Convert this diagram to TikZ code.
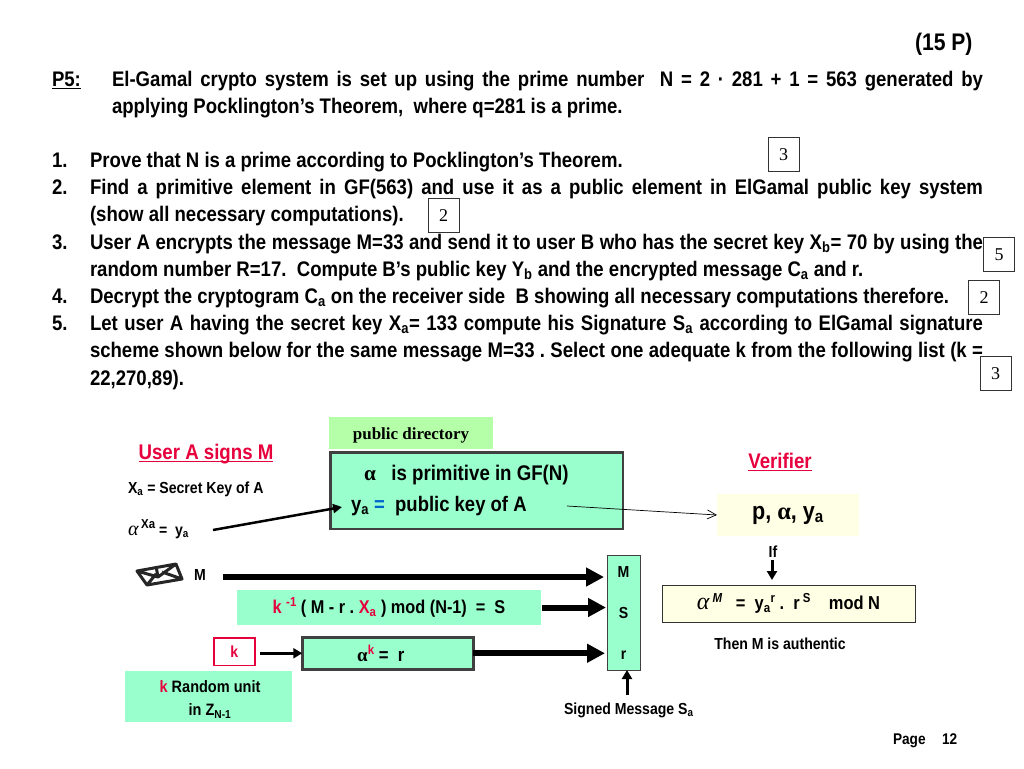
\documentclass[tikz,border=0pt]{standalone}
\usepackage{fontspec}
\setmainfont[FakeStretch=0.88]{Liberation Sans}
\newfontfamily\numfont{Liberation Serif}
\usetikzlibrary{arrows.meta, positioning, calc}
\definecolor{boxgreen}{HTML}{99FFCC}
\definecolor{dirgreen}{HTML}{B4FFA8}
\definecolor{paleyellow}{HTML}{FFFFE5}
\definecolor{signred}{HTML}{E6003C}
\definecolor{eqblue}{HTML}{0066CC}
\newcommand{\fitline}[1]{\hbox to #1}
\newcommand{\lowsub}[1]{\textsubscript{#1}}
\newcommand{\fsize}[1]{\fontsize{#1}{#1}\selectfont\bfseries}
\newcommand{\upalpha}{{\numfont\bfseries α}}
\newcommand{\italpha}[1]{{\numfont\fontsize{#1}{#1}\selectfont\mdseries\itshape α}}
\newcommand{\redk}{\textcolor{signred}{k}}
\newcommand{\highup}[1]{\raisebox{.4em}{\fontsize{13}{13}\selectfont #1}}
\newcommand{\ruled}[1]{\setbox0\hbox{#1}\rlap{\rule[-3pt]{\wd0}{1.3pt}}\box0}
\frenchspacing

\begin{document}
\begin{tikzpicture}[x=1pt, y=-1pt,
    every node/.style={inner sep=0pt, outer sep=0pt},
    bodyline/.style={anchor=base west, font=\fsize{21.1}},
    markbox/.style={draw=black!80, fill=white, line width=0.8pt, minimum width=31pt, minimum height=34pt, font=\numfont\fontsize{18}{18}\selectfont},
    greenbox/.style={fill=boxgreen, anchor=north west},
    framebox/.style={greenbox, draw=black!75, line width=2.5pt},
    yellowbox/.style={fill=paleyellow, anchor=north west},
    heavy/.style={line width=6pt, -{Triangle[length=18pt, width=18pt]}},
    medium/.style={line width=3pt, -{Triangle[length=9pt, width=10pt]}},
    small/.style={font=\fsize{16}},
    head/.style={font=\fsize{21.2}, text=signred}]
    \useasboundingbox (0,0) rectangle (1024,768);

    % task text
    \node[font=\fsize{24}, anchor=base west] (points) at (915,50) {(15 P)};
    \node[bodyline] (pfive) at (52,86) {\ruled{P5:}};
    \node[bodyline] (intro1) at (112,86) {\fitline{871pt}{El-Gamal crypto system is set up using the prime number\ \ N = 2 · 281 + 1 = 563 generated by}};
    \node[bodyline] (intro2) at (112,113) {applying Pocklington’s Theorem,\ \ where q=281 is a prime.};
    \node[bodyline] (num1) at (52,167) {1.};
    \node[bodyline] (num2) at (52,194) {2.};
    \node[bodyline] (num3) at (52,249) {3.};
    \node[bodyline] (num4) at (52,303) {4.};
    \node[bodyline] (num5) at (52,330) {5.};
    \node[bodyline] (task1) at (90,167) {Prove that N is a prime according to Pocklington’s Theorem.};
    \node[bodyline] (task2a) at (90,194) {\fitline{893pt}{Find a primitive element in GF(563) and use it as a public element in ElGamal public key system}};
    \node[bodyline] (task2b) at (90,221) {(show all necessary computations).};
    \node[bodyline] (task3a) at (90,249) {\fitline{893pt}{User A encrypts the message M=33 and send it to user B who has the secret key X\lowsub{b}= 70 by using the}};
    \node[bodyline] (task3b) at (90,276) {random number R=17.\ \ Compute B’s public key Y\lowsub{b} and the encrypted message C\lowsub{a} and r.};
    \node[bodyline] (task4) at (90,303) {Decrypt the cryptogram C\lowsub{a} on the receiver side\ \ B showing all necessary computations therefore.};
    \node[bodyline] (task5a) at (90,330) {\fitline{893pt}{Let user A having the secret key X\lowsub{a}= 133 compute his Signature S\lowsub{a} according to ElGamal signature}};
    \node[bodyline] (task5b) at (90,357) {\fitline{893pt}{scheme shown below for the same message M=33 . Select one adequate k from the following list (k =}};
    \node[bodyline] (task5c) at (90,385) {22,270,89).};

    % marks
    \node[markbox] (mark3a) at (783.5,154.5) {3};
    \node[markbox] (mark2a) at (443.5,215.5) {2};
    \node[markbox] (mark5) at (999,254.5) {5};
    \node[markbox] (mark2b) at (984,297.5) {2};
    \node[markbox] (mark3b) at (995.5,373.5) {3};

    % signer side
    \node[head] (usera) at (206,454) {\ruled{User A signs M}};
    \node[font=\fsize{16}, anchor=base west] (secret) at (128,493) {X\lowsub{a} = Secret Key of A};
    \node[font=\fsize{16}, anchor=base west] (power) at (128,535) {\italpha{20}\,\highup{Xa} = \ y\lowsub{a}};
    \node[font=\fsize{16}, anchor=base west] (msg) at (194,580) {M};
    \draw[line width=3pt, black!85, line join=round] (137,571) -- (176,564) -- (182,579) -- (147,585) -- cycle
        (137,571) -- (158,577) -- (176,564) (147,585) -- (156,574) (182,579) -- (162,572) (156,566) -- (158,577);

    % public directory
    \node[fill=dirgreen, anchor=north west, minimum width=164pt, minimum height=32pt, font=\numfont\bfseries\fontsize{17}{17}\selectfont] (directory) at (329,417) {\rule{0pt}{16pt}public directory};
    \node[framebox, minimum width=292.5pt, minimum height=76.5pt] (dirbox) at (330.25,452.25) {};
    \node[font=\fsize{21.2}, anchor=base west] (primitive) at (364,480) {\upalpha\ \ \ is primitive in GF(N)};
    \node[font=\fsize{21}, anchor=base west] (pubkey) at (351,511) {y\lowsub{a} \textcolor{eqblue}{=}\ \ public key of A};

    % signature steps
    \node[greenbox, minimum width=304pt, minimum height=35pt, font=\fsize{18.5}] (formula) at (237,590) {\redk\ \highup{\textcolor{signred}{-1}} ( M - r . \textcolor{signred}{X\lowsub{a}} ) mod (N-1)\ \ =\ \ S};
    \node[framebox, minimum width=171pt, minimum height=32pt, font=\fsize{19}] (rbox) at (302.25,637.25) {\upalpha\highup{\textcolor{signred}{k}} =\ \ r\hspace*{14pt}};
    \node[draw=signred, fill=white, line width=1.5pt, anchor=north west, minimum width=41pt, minimum height=27.5pt, font=\fsize{16}, text=signred] (kbox) at (213.75,637.75) {k};
    \node[greenbox, minimum width=167pt, minimum height=51pt, align=center, font=\fsize{16.5}] (random) at (125,671) {\rule{0pt}{18pt}\hspace*{3pt}\redk\ Random unit\\[6pt]in Z\lowsub{N-1}\hspace*{-3pt}};

    % signed message
    \node[fill=boxgreen, draw=black!75, line width=1pt, anchor=north west, minimum width=33pt, minimum height=115pt] (signed) at (607,555) {};
    \node[font=\fsize{16}] (sigm) at (623.5,572) {M};
    \node[font=\fsize{16}] (sigs) at (623.5,613) {S};
    \node[font=\fsize{16}] (sigr) at (623.5,655) {r};
    \node[font=\fsize{16}, anchor=base west] (signlabel) at (564,714) {Signed Message S\lowsub{a}};

    % verifier side
    \node[head] (verifier) at (780,462) {\ruled{Verifier}};
    \node[yellowbox, minimum width=142pt, minimum height=42pt, font=\fsize{24.5}] (params) at (717,494) {p, \upalpha, y\lowsub{a}};
    \node[small] (iflabel) at (773,552) {If};
    \node[yellowbox, draw=black!80, line width=0.8pt, minimum width=253pt, minimum height=37pt, font=\fsize{18.7}] (check) at (662,585) {\italpha{24}\,\highup{\itshape M}\ \ \ =\ \ y\lowsub{a}\highup{r}\ .\ \ r\,\highup{S}\ \ \ \ mod N};
    \node[small] (authentic) at (780,644) {Then M is authentic};
    \node[font=\fsize{15.5}, anchor=base west] (page) at (893,744) {Page};
    \node[font=\fsize{15.5}, anchor=base west] (pagenum) at (942,744) {12};

    % connectors
    \coordinate (powerend) at (213,530);
    \coordinate (keyin) at (342,507);
    \coordinate (keyout) at (567,506);
    \coordinate (msgstart) at (223,577);
    \coordinate (msgend) at (604,577);
    \coordinate (sigend) at (606,608);
    \coordinate (rend) at (605,652);
    \coordinate (signfoot) at (627,695);
    \coordinate (signtop) at (627,670);
    \coordinate (iftop) at (772,560);
    \coordinate (iffoot) at (772,580);
    \draw[line width=2.5pt, -{Triangle[length=9pt, width=9pt]}] (powerend) -- (keyin);
    \draw[line width=0.7pt, -{Straight Barb[length=9pt, width=9pt]}] (keyout) -- (params.west);
    \draw[heavy] (msgstart) -- (msgend);
    \draw[heavy] ([xshift=1pt]formula.east) -- (formula.east -| sigend);
    \draw[heavy] (rbox.east) -- (rbox.east -| rend);
    \draw[medium] ([xshift=5pt]rbox.west -| kbox.east) -- (rbox.west);
    \draw[medium] (signfoot) -- (signtop);
    \draw[medium] (iftop) -- (iffoot);
\end{tikzpicture}
\end{document}
